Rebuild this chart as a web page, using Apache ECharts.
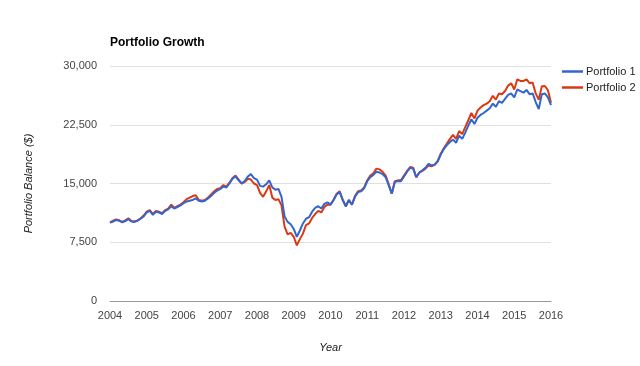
<!DOCTYPE html>
<html>
<head>
<meta charset="utf-8">
<script src="https://cdn.jsdelivr.net/npm/echarts@6/dist/echarts.min.js"></script>
<style>html,body{margin:0;padding:0;background:#fff}#c{width:640px;height:366px}</style>
</head>
<body>
<div id="c"></div>
<script>
var startYear = 2004;
var yearTicks = [2004,2005,2006,2007,2008,2009,2010,2011,2012,2013,2014,2015,2016];
var valueTicks = [0, 7500, 15000, 22500, 30000];
// monthly balances, Jan 2004 .. Jan 2016
var portfolio1 = [
  10000,10150,10350,10250,10050,10200,10450,10150,10100,10250,10500,10800,
  11300,11500,11000,11400,11300,11100,11500,11700,12100,11800,12000,12200,
  12500,12700,12800,12900,13100,12800,12700,12800,13100,13400,13800,14100,
  14300,14600,14500,15000,15600,15900,15400,15000,15300,15900,16200,15700,
  15500,14700,14600,14900,15400,14500,14200,14300,13300,10800,10100,9800,
  9200,8200,9000,9900,10500,10700,11400,11900,12100,11800,12400,12600,
  12300,12900,13600,13900,12900,12100,12900,12300,13300,13900,14000,14400,
  15300,15800,16100,16500,16400,16200,15800,14800,13700,15200,15300,15300,
  15900,16500,17000,16900,15800,16400,16700,17000,17500,17300,17400,17800,
  18700,19400,19900,20300,20600,20200,21100,20700,21500,22400,23200,22600,
  23400,23750,24000,24300,24600,25200,24800,25500,25300,25800,26300,26500,
  26000,27000,26800,26600,26950,26400,26500,25400,24500,26400,26500,26000,
  25000
];
var portfolio2 = [
  10000,10250,10400,10300,10100,10300,10550,10200,10150,10300,10550,10900,
  11400,11600,11100,11500,11400,11200,11600,11800,12300,11900,12100,12300,
  12600,13000,13200,13400,13500,12900,12800,12900,13200,13600,14000,14300,
  14400,14800,14600,15100,15700,16000,15500,15000,15200,15600,15500,15000,
  14800,13800,13300,14000,14800,13200,12900,13000,12200,9500,8500,8700,
  8200,7100,7900,8600,9700,9900,10600,11100,11500,11300,12000,12300,
  12300,12900,13700,14000,12900,12100,12900,12300,13400,14000,14100,14500,
  15400,16000,16300,16900,16800,16500,16000,14900,13700,15300,15400,15400,
  16000,16600,17100,17000,15800,16400,16600,16900,17300,17200,17400,17900,
  18800,19500,20100,20700,21200,20700,21700,21300,22200,23100,24000,23300,
  24300,24700,25000,25200,25500,26200,25700,26500,26400,26800,27500,27800,
  27000,28300,28100,28100,28300,27800,27900,26500,25700,27400,27450,26900,
  25300
];
var seriesNames = ['Portfolio 1', 'Portfolio 2'];

function toPairs(arr){ return arr.map(function(v,i){ return [startYear + i/12, v]; }); }

var chart = echarts.init(document.getElementById('c'), null, {renderer:'canvas'});
var font = 'Arial, "Liberation Sans", sans-serif';
chart.setOption({
  animation: false,
  color: ['#3366cc', '#dc3912'],
  title: {
    text: 'Portfolio Growth', left: 110, top: 37, padding: 0,
    textStyle: {fontFamily: font, fontSize: 12, fontWeight: 'bold', color: '#000'}
  },
  legend: {
    orient: 'vertical', left: 562, top: 66, itemGap: 5, padding: 0,
    icon: 'rect', itemWidth: 21, itemHeight: 2.5,
    textStyle: {fontFamily: font, fontSize: 11, color: '#222', padding: [0,0,0,-2]},
    data: seriesNames
  },
  grid: {left: 110, right: 89, top: 66, bottom: 65},
  xAxis: {
    type: 'value', min: 2004, max: 2016, interval: 1,
    name: 'Year', nameLocation: 'middle', nameGap: 41,
    nameTextStyle: {fontFamily: font, fontSize: 11, fontStyle: 'italic', color: '#222'},
    axisLine: {show: true, lineStyle: {color: '#999', width: 1}},
    axisTick: {show: false},
    splitLine: {show: false},
    axisLabel: {fontFamily: font, fontSize: 11, color: '#444', margin: 9,
      formatter: function(v){ return String(Math.round(v)); }}
  },
  yAxis: {
    type: 'value', min: 0, max: 30000, interval: 7500,
    name: 'Portfolio Balance ($)', nameLocation: 'middle', nameGap: 76,
    nameTextStyle: {fontFamily: font, fontSize: 11, fontStyle: 'italic', color: '#222'},
    axisLine: {show: false}, axisTick: {show: false},
    splitLine: {lineStyle: {color: '#e0e0e0', width: 1}},
    axisLabel: {fontFamily: font, fontSize: 11, color: '#444', margin: 13,
      formatter: function(v){ return v.toLocaleString('en-US'); }}
  },
  series: [
    {name: seriesNames[0], type: 'line', showSymbol: false, data: toPairs(portfolio1),
     lineStyle: {width: 2}, z: 3},
    {name: seriesNames[1], type: 'line', showSymbol: false, data: toPairs(portfolio2),
     lineStyle: {width: 2}, z: 2}
  ]
});
</script>
</body>
</html>
